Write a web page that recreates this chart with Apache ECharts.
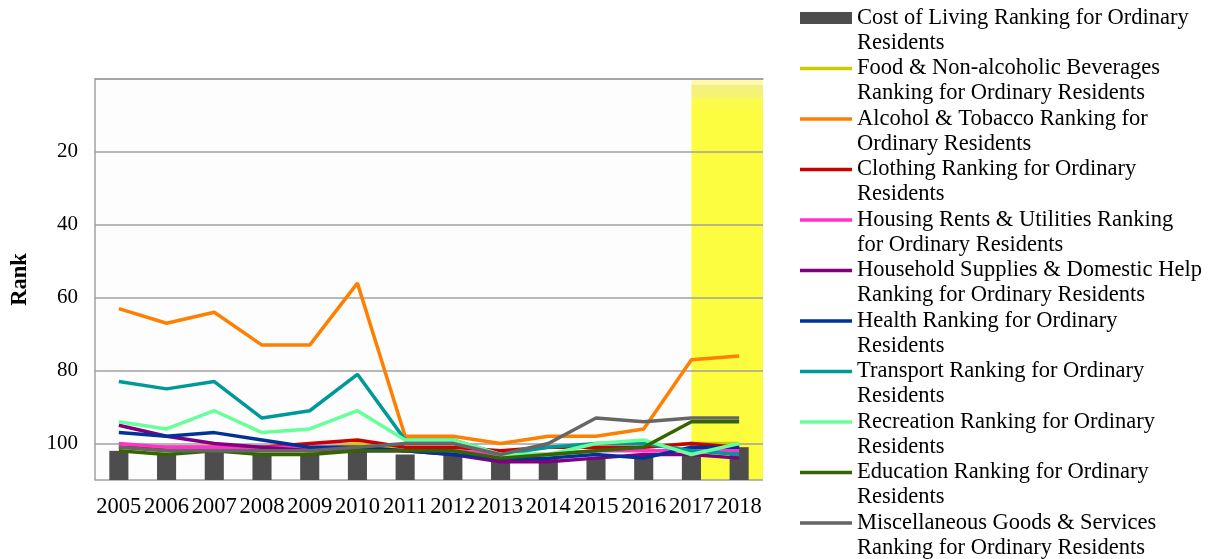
<!DOCTYPE html>
<html>
<head>
<meta charset="utf-8">
<script src="https://cdn.jsdelivr.net/npm/echarts@6/dist/echarts.min.js"></script>
<style>
  html, body { margin: 0; padding: 0; background: #fff; }
  #chart { width: 1218px; height: 559px; }
</style>
</head>
<body>
<div id="chart"></div>
<script>
/* ---------- data ---------- */
const years = ['2005', '2006', '2007', '2008', '2009', '2010', '2011',
  '2012', '2013', '2014', '2015', '2016', '2017', '2018'];
const costOfLiving = [102, 103, 102, 103, 103, 102, 103, 103, 104, 104, 104, 103, 103, 101];
const food = [101, 102, 101, 102, 102, 100, 102, 102, 103, 103, 102, 101, 100, 100];
const alcohol = [63, 67, 64, 73, 73, 56, 98, 98, 100, 98, 98, 96, 77, 76];
const clothing = [101, 101, 101, 101, 100, 99, 101, 101, 102, 101, 101, 101, 100, 101];
const housing = [100, 101, 101, 101, 101, 101, 102, 102, 103, 103, 102, 102, 102, 102];
const household = [95, 98, 100, 101, 102, 102, 102, 103, 105, 105, 104, 103, 103, 104];
const health = [97, 98, 97, 99, 101, 101, 102, 103, 104, 104, 103, 104, 101, 101];
const transport = [83, 85, 83, 93, 91, 81, 99, 99, 103, 101, 100, 100, 102, 103];
const recreation = [94, 96, 91, 97, 96, 91, 99, 99, 103, 103, 100, 99, 103, 100];
const education = [102, 103, 102, 103, 103, 102, 102, 102, 104, 103, 102, 101, 94, 94];
const misc = [101, 102, 102, 102, 102, 101, 100, 100, 103, 100, 93, 94, 93, 93];

const lineSeries = [
  { name: 'Food & Non-alcoholic Beverages Ranking for Ordinary Residents', data: food, color: '#cccc00' },
  { name: 'Alcohol & Tobacco Ranking for Ordinary Residents', data: alcohol, color: '#ff8000' },
  { name: 'Clothing Ranking for Ordinary Residents', data: clothing, color: '#cc0000' },
  { name: 'Housing Rents & Utilities Ranking for Ordinary Residents', data: housing, color: '#ff33cc' },
  { name: 'Household Supplies & Domestic Help Ranking for Ordinary Residents', data: household, color: '#800080' },
  { name: 'Health Ranking for Ordinary Residents', data: health, color: '#003399' },
  { name: 'Transport Ranking for Ordinary Residents', data: transport, color: '#009999' },
  { name: 'Recreation Ranking for Ordinary Residents', data: recreation, color: '#66ff99' },
  { name: 'Education Ranking for Ordinary Residents', data: education, color: '#336600' },
  { name: 'Miscellaneous Goods & Services Ranking for Ordinary Residents', data: misc, color: '#666666' },
];
const barName = 'Cost of Living Ranking for Ordinary Residents';

const FONT = '"Liberation Serif", "Times New Roman", serif';
const FONT_SIZE = 22.5;
// legend icons: drawn on the first text line (box 52 x 50)
const BAR_ICON = 'path://M0,0L0.01,0M0,6.5H52V18.5H0ZM0,50L0.01,50';
const LINE_ICON = 'path://M0,0L0.01,0M0,10.8H52V14.2H0ZM0,50L0.01,50';

// greedy word wrap for legend names
const measureCtx = document.createElement('canvas').getContext('2d');
measureCtx.font = FONT_SIZE + 'px ' + FONT;
function wrapName(name) {
  const words = name.split(' ');
  const lines = [];
  let cur = '';
  words.forEach((w) => {
    const test = cur ? cur + ' ' + w : w;
    if (cur && measureCtx.measureText(test).width > 345.5) {
      lines.push(cur);
      cur = w;
    } else {
      cur = test;
    }
  });
  lines.push(cur);
  return lines.join('\n');
}

const chart = echarts.init(document.getElementById('chart'));
chart.setOption({
  animation: false,
  textStyle: { fontFamily: FONT, color: '#000' },
  grid: {
    left: 95, right: 455, top: 79, bottom: 79,
    outerBoundsMode: 'none',
    show: true, backgroundColor: '#fdfdfd', borderWidth: 0, z: 0,
  },
  legend: {
    orient: 'vertical',
    left: 800,
    top: 5.5,
    height: 600,
    padding: 0,
    itemGap: 0.5,
    itemWidth: 52,
    itemHeight: 50,
    symbolKeepAspect: false,
    data: [{ name: barName, icon: BAR_ICON }].concat(
      lineSeries.map((s) => ({ name: s.name, icon: LINE_ICON }))),
    formatter: wrapName,
    textStyle: {
      fontFamily: FONT, fontSize: FONT_SIZE, color: '#000', lineHeight: 25,
    },
  },
  xAxis: [
    {
      type: 'category',
      data: years,
      z: 2,
      axisLine: { lineStyle: { color: '#a0a0a0', width: 1.5 } },
      axisTick: { show: false },
      axisLabel: { fontFamily: FONT, fontSize: FONT_SIZE, color: '#000', interval: 0, margin: 16 },
    },
    { type: 'value', min: 0, max: 14, show: false },
  ],
  yAxis: {
    type: 'value',
    inverse: true,
    min: 0,
    max: 110,
    interval: 20,
    startValue: 110,
    z: 2,
    name: 'Rank',
    nameLocation: 'middle',
    nameGap: 63,
    nameTextStyle: { fontFamily: FONT, fontSize: FONT_SIZE, fontWeight: 'bold', color: '#000' },
    axisLine: { show: true, lineStyle: { color: '#a0a0a0', width: 1.5 } },
    axisTick: { show: false },
    splitLine: { lineStyle: { color: '#a0a0a0', width: 1.5 } },
    axisLabel: {
      fontFamily: FONT, fontSize: 21, color: '#000', margin: 17,
      showMinLabel: false, showMaxLabel: false,
    },
  },
  series: [
    {
      type: 'line',
      xAxisIndex: 1,
      data: [],
      z: 1,
      markArea: {
        silent: true,
        itemStyle: {
          color: new echarts.graphic.LinearGradient(0, 0, 0, 1, [
            { offset: 0, color: '#fffcb4' },
            { offset: 0.014, color: '#fcf9a8' },
            { offset: 0.016, color: '#f3ef82' },
            { offset: 0.045, color: '#f6f470' },
            { offset: 0.05, color: '#fbfb52' },
            { offset: 0.09, color: '#fdfd40' },
            { offset: 1, color: '#fdfd3e' },
          ]),
        },
        data: [[{ xAxis: 12.5, yAxis: 0 }, { xAxis: 14, yAxis: 110 }]],
      },
    },
    {
      name: barName,
      type: 'bar',
      data: costOfLiving,
      z: 3,
      barWidth: '40%',
      itemStyle: { color: '#4d4d4d' },
    },
  ].concat(lineSeries.map((s) => ({
    name: s.name,
    type: 'line',
    data: s.data,
    z: 4,
    symbol: 'none',
    lineStyle: { color: s.color, width: 3.5 },
    itemStyle: { color: s.color },
  }))),
});
</script>
</body>
</html>
